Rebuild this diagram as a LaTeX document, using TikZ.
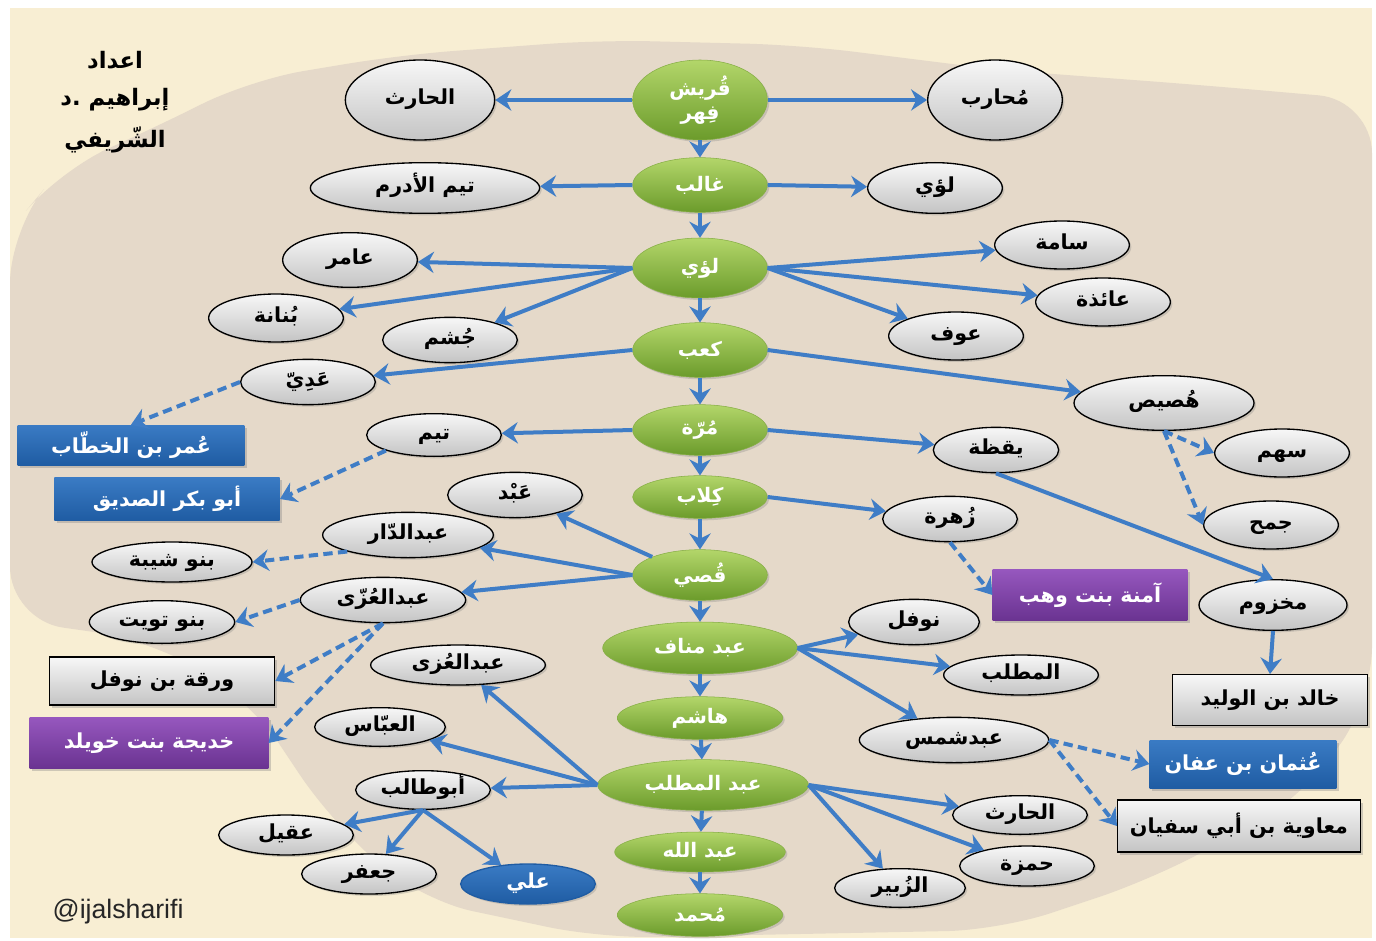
\documentclass[tikz,border=0pt]{standalone}
\usepackage{fontspec}
\usepackage{tikz}
\usetikzlibrary{arrows.meta, shapes.geometric, shadows}
\TeXXeTstate=1
\newfontfamily\arabicfont[Script=Arabic]{DejaVu Sans}
\newfontfamily\latinsans{Liberation Sans}
\newcommand{\artext}[1]{\beginR #1\endR}
\definecolor{creambg}{HTML}{F8EED3}
\definecolor{rockbg}{HTML}{E5D9C9}
\definecolor{linkblue}{HTML}{3F7DC6}
\definecolor{greentop}{HTML}{B3D66A}
\definecolor{greenbot}{HTML}{6B9B2B}
\definecolor{greenborder}{HTML}{86AE45}
\definecolor{greytop}{HTML}{F7F7F7}
\definecolor{greybot}{HTML}{C4C4C4}
\definecolor{bluetop}{HTML}{3A7BC4}
\definecolor{bluebot}{HTML}{1F5CA3}
\definecolor{purpletop}{HTML}{9657BE}
\definecolor{purplebot}{HTML}{6A3391}

\begin{document}
\begin{tikzpicture}[
  x=0.75pt, y=-0.75pt,
  gnode/.style={ellipse, draw=greenborder, top color=greentop, bottom color=greenbot,
                minimum width=101pt, minimum height=40pt, inner sep=0pt, align=center,
                font=\arabicfont\bfseries\fontsize{15}{18}\selectfont, text=white,
                drop shadow={opacity=0.3, shadow xshift=1.5pt, shadow yshift=-1.5pt}},
  pnode/.style={ellipse, draw=black, line width=1pt, top color=greytop, bottom color=greybot,
                minimum width=101pt, minimum height=36pt, inner sep=0pt,
                text height=11pt, text depth=4pt,
                font=\arabicfont\bfseries\fontsize{15.5}{18}\selectfont, text=black,
                drop shadow={opacity=0.3, shadow xshift=1.5pt, shadow yshift=-1.5pt}},
  alinode/.style={pnode, draw=bluebot, top color=bluetop, bottom color=bluebot, text=white},
  bluebox/.style={rectangle, top color=bluetop, bottom color=bluebot, inner sep=2pt,
                  font=\arabicfont\bfseries\fontsize{15.5}{18}\selectfont, text=white,
                  drop shadow={opacity=0.35, shadow xshift=2pt, shadow yshift=-2pt}},
  purplebox/.style={bluebox, top color=purpletop, bottom color=purplebot},
  greybox/.style={bluebox, draw=black, line width=1pt, top color=greytop, bottom color=greybot,
                  text=black},
  titletext/.style={font=\arabicfont\bfseries\fontsize{17}{20}\selectfont, text=black},
  solidlink/.style={-{Stealth[length=12pt, width=16pt, inset=4pt]}, line width=3pt, draw=linkblue},
  dashlink/.style={solidlink, dash pattern=on 7pt off 4pt}
]
  % background
  \fill[white] (0,0) rectangle (1376,941);
  \fill[creambg] (10,8) rectangle (1372,938);
  \fill[rockbg, rounded corners=40pt] (10,230) -- (60,170) -- (150,130) -- (250,80) -- (400,55)
    -- (600,40) -- (800,45) -- (1000,70) -- (1200,85) -- (1372,100) -- (1372,700) -- (1300,800)
    -- (1150,880) -- (1000,930) -- (600,938) -- (420,900) -- (330,820) -- (250,700)
    -- (150,640) -- (10,620) -- cycle;
  \useasboundingbox (0,0) rectangle (1376,941);

  % author
  \node[titletext] (prep) at (115,60) {\artext{اعداد}};
  \node[titletext] (doctor) at (115,100) {\mbox{د}\mbox{.}\ \mbox{إبراهيم}};
  \node[titletext] (family) at (115,140) {\artext{الشّريفي}};

  % main line
  \node[gnode, minimum height=60pt] (quraysh) at (700,100) {\artext{قُريش}\\\artext{فِهر}};
  \node[gnode, minimum height=41pt] (ghalib) at (700,185) {\artext{غالب}};
  \node[gnode, minimum height=45pt] (luayy) at (700,268) {\artext{لؤي}};
  \node[gnode, minimum height=41pt] (kaab) at (700,350) {\artext{كعب}};
  \node[gnode, minimum height=38pt] (murra) at (700,430) {\artext{مُرّة}};
  \node[gnode, minimum height=32pt] (kilab) at (700,497) {\artext{كِلاب}};
  \node[gnode, minimum height=38pt] (qusay) at (700,575) {\artext{قُصي}};
  \node[gnode, minimum width=146pt, minimum height=39pt] (abdmanaf) at (700,648) {\artext{عبد مناف}};
  \node[gnode, minimum width=124pt, minimum height=32pt] (hashim) at (700,718) {\artext{هاشم}};
  \node[gnode, minimum width=158pt, minimum height=38pt] (abdmuttalib) at (703,785) {\artext{عبد المطلب}};
  \node[gnode, minimum width=128pt, minimum height=30pt] (abdullah) at (700,852) {\artext{عبد الله}};
  \node[gnode, minimum width=124pt, minimum height=32pt] (muhammad) at (700,915) {\artext{مُحمد}};

  % branches
  \node[pnode, minimum width=112pt, minimum height=60pt] (harith) at (420,100) {\artext{الحارث}};
  \node[pnode, minimum height=60pt] (muharib) at (995,100) {\artext{مُحارب}};
  \node[pnode, minimum width=172pt, minimum height=38pt] (tayma) at (425,188) {\artext{تيم الأدرم}};
  \node[pnode, minimum height=38pt] (luayyb) at (935,188) {\artext{لؤي}};
  \node[pnode, minimum height=41pt] (amir) at (350,260) {\artext{عامر}};
  \node[pnode] (sama) at (1062,245) {\artext{سامة}};
  \node[pnode] (aidha) at (1103,302) {\artext{عائذة}};
  \node[pnode] (bunana) at (276,318) {\artext{بُنانة}};
  \node[pnode, minimum height=34pt] (jusham) at (450,340) {\artext{جُشم}};
  \node[pnode] (awf) at (956,336) {\artext{عوف}};
  \node[pnode, minimum height=34pt] (adiyy) at (308,382) {\artext{عَدِيّ}};
  \node[pnode, minimum width=135pt, minimum height=41pt] (husays) at (1164,403) {\artext{هُصيص}};
  \node[pnode, minimum height=32pt] (taym) at (434,435) {\artext{تيم}};
  \node[pnode, minimum width=94pt, minimum height=34pt] (yaqaza) at (996,450) {\artext{يقظة}};
  \node[pnode] (sahm) at (1282,453) {\artext{سهم}};
  \node[pnode, minimum height=34pt] (abd) at (515,495) {\artext{عَبْد}};
  \node[pnode, minimum width=128pt, minimum height=34pt] (abddar) at (408,535) {\artext{عبدالدّار}};
  \node[pnode, minimum height=34pt] (zuhra) at (950,519) {\artext{زُهرة}};
  \node[pnode] (jumah) at (1271,525) {\artext{جمح}};
  \node[pnode, minimum width=120pt, minimum height=30pt] (shayba) at (172,562) {\artext{بنو شيبة}};
  \node[pnode, minimum width=124pt, minimum height=34pt] (uzza) at (383,600) {\artext{عبدالعُزّى}};
  \node[pnode, minimum width=111pt, minimum height=38pt] (makhzum) at (1273,605) {\artext{مخزوم}};
  \node[pnode, minimum width=109pt, minimum height=32pt] (tuwayt) at (162,622) {\artext{بنو تويت}};
  \node[pnode, minimum width=98pt, minimum height=34pt] (nawfal) at (914,622) {\artext{نوفل}};
  \node[pnode, minimum width=131pt, minimum height=30pt] (uzzab) at (458,665) {\artext{عبدالعُزى}};
  \node[pnode, minimum width=116pt, minimum height=30pt] (muttalib) at (1021,675) {\artext{المطلب}};
  \node[pnode, minimum width=98pt, minimum height=29pt] (abbas) at (380,727) {\artext{العبّاس}};
  \node[pnode, minimum width=142pt, minimum height=34pt] (shams) at (954,740) {\artext{عبدشمس}};
  \node[pnode, minimum height=29pt] (abutalib) at (423,790) {\artext{أبوطالب}};
  \node[pnode, minimum height=29pt] (harithb) at (1020,815) {\artext{الحارث}};
  \node[pnode, minimum height=30pt] (aqil) at (286,835) {\artext{عقيل}};
  \node[pnode, minimum height=30pt] (hamza) at (1027,866) {\artext{حمزة}};
  \node[pnode, minimum height=30pt] (jafar) at (369,874) {\artext{جعفر}};
  \node[pnode, minimum width=98pt, minimum height=29pt] (zubayr) at (900,888) {\artext{الزُبير}};
  \node[alinode, minimum height=30pt] (ali) at (528,884) {\artext{علي}};

  % famous descendants
  \node[bluebox, minimum width=170pt, minimum height=30pt] (umar) at (131,445) {\artext{عُمر بن الخطّاب}};
  \node[bluebox, minimum width=169pt, minimum height=32pt] (abubakr) at (167,499) {\artext{أبو بكر الصديق}};
  \node[purplebox, minimum width=146pt, minimum height=38pt] (amina) at (1090,595) {\artext{آمنة بنت وهب}};
  \node[greybox, minimum width=146pt, minimum height=38pt] (khalid) at (1270,700) {\artext{خالد بن الوليد}};
  \node[greybox, minimum width=169pt, minimum height=36pt] (waraqa) at (162,681) {\artext{ورقة بن نوفل}};
  \node[purplebox, minimum width=179pt, minimum height=38pt] (khadija) at (149,743) {\artext{خديجة بنت خويلد}};
  \node[bluebox, minimum width=140pt, minimum height=36pt] (uthman) at (1243,764) {\artext{عُثمان بن عفان}};
  \node[greybox, minimum width=182pt, minimum height=39pt] (muawiya) at (1239,826) {\artext{معاوية بن أبي سفيان}};

  \node[anchor=west, font=\latinsans\fontsize{20}{24}\selectfont, text=black!85] (handle) at (48,912) {@ijalsharifi};

  % main line arrows
  \draw[solidlink] (quraysh) -- (ghalib);
  \draw[solidlink] (ghalib) -- (luayy);
  \draw[solidlink] (luayy) -- (kaab);
  \draw[solidlink] (kaab) -- (murra);
  \draw[solidlink] (murra) -- (kilab);
  \draw[solidlink] (kilab) -- (qusay);
  \draw[solidlink] (qusay) -- (abdmanaf);
  \draw[solidlink] (abdmanaf) -- (hashim);
  \draw[solidlink] (hashim) -- (abdmuttalib);
  \draw[solidlink] (abdmuttalib) -- (abdullah);
  \draw[solidlink] (abdullah) -- (muhammad);

  % side arrows
  \draw[solidlink] (quraysh.west) -- (harith);
  \draw[solidlink] (quraysh.east) -- (muharib);
  \draw[solidlink] (ghalib.west) -- (tayma);
  \draw[solidlink] (ghalib.east) -- (luayyb);
  \draw[solidlink] (luayy.west) -- (amir);
  \draw[solidlink] (luayy.west) -- (bunana);
  \draw[solidlink] (luayy.west) -- (jusham);
  \draw[solidlink] (luayy.east) -- (sama);
  \draw[solidlink] (luayy.east) -- (aidha);
  \draw[solidlink] (luayy.east) -- (awf);
  \draw[solidlink] (kaab.west) -- (adiyy);
  \draw[solidlink] (kaab.east) -- (husays);
  \draw[solidlink] (murra.west) -- (taym);
  \draw[solidlink] (murra.east) -- (yaqaza);
  \draw[solidlink] (kilab.east) -- (zuhra);
  \draw[solidlink] (yaqaza.south) -- (makhzum.north);
  \draw[solidlink] (makhzum.south) -- (khalid.north);
  \draw[solidlink] (qusay.north west) -- (abd);
  \draw[solidlink] (qusay.west) -- (abddar);
  \draw[solidlink] (qusay.west) -- (uzza);
  \draw[solidlink] (abdmanaf.east) -- (nawfal);
  \draw[solidlink] (abdmanaf.east) -- (muttalib);
  \draw[solidlink] (abdmanaf.east) -- (shams);
  \draw[solidlink] (abdmuttalib.west) -- (uzzab);
  \draw[solidlink] (abdmuttalib.west) -- (abbas);
  \draw[solidlink] (abdmuttalib.west) -- (abutalib);
  \draw[solidlink] (abdmuttalib.east) -- (harithb);
  \draw[solidlink] (abdmuttalib.east) -- (hamza);
  \draw[solidlink] (abdmuttalib.east) -- (zubayr);
  \draw[solidlink] (abutalib.south) -- (aqil);
  \draw[solidlink] (abutalib.south) -- (jafar);
  \draw[solidlink] (abutalib.south) -- (ali);

  % dashed links
  \draw[dashlink] (adiyy.west) -- (umar.north);
  \draw[dashlink] (taym.south west) -- (abubakr.east);
  \draw[dashlink] (abddar.south west) -- (shayba.east);
  \draw[dashlink] (uzza.west) -- (tuwayt.east);
  \draw[dashlink] (uzza.south) -- (waraqa.east);
  \draw[dashlink] (uzza.south) -- (khadija.east);
  \draw[dashlink] (zuhra.south) -- (amina.west);
  \draw[dashlink] (husays.south) -- (sahm.west);
  \draw[dashlink] (husays.south) -- (jumah.west);
  \draw[dashlink] (shams.east) -- (uthman.west);
  \draw[dashlink] (shams.east) -- (muawiya.west);
\end{tikzpicture}
\end{document}
